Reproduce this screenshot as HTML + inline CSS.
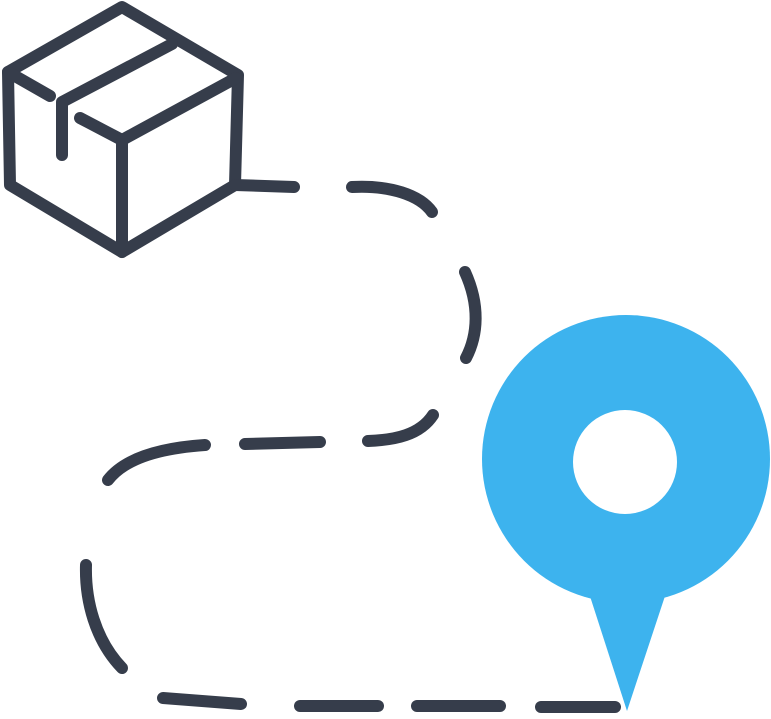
<!DOCTYPE html>
<html><head><style>html,body{margin:0;padding:0;background:#fff;width:771px;height:719px;overflow:hidden}</style></head>
<body>
<svg width="771" height="719" viewBox="0 0 771 719" xmlns="http://www.w3.org/2000/svg">
<g fill="none" stroke="#363d4b" stroke-width="12" stroke-linecap="round" stroke-linejoin="round">
<path d="M122,7 L8,72 L10,185 L122,252 L235,185 L238,75 Z"/>
<path d="M80,118 L122,140 L236,78"/>
<path d="M122,140 L122,252"/>
<path d="M8,72 L50,96"/>
<path d="M172,44 L62,102 L62,155"/>
<path d="M235,185 L294,187"/>
<path d="M352,187 C390,185 420,195 432,212" />
<path d="M465,272 C480,305 478,335 466,358"/>
<path d="M433,415 C420,435 395,440 368,441"/>
<path d="M320,442 L245,444"/>
<path d="M205,445 C160,448 125,458 108,480"/>
<path d="M86,565 C85,600 95,640 122,668"/>
<path d="M163,698 L241,704"/>
<path d="M300,706 L378,706"/>
<path d="M417,706 L500,706"/>
<path d="M541,707 L615,707"/>
</g>
<g fill="#3db3ee">
<circle cx="626" cy="459" r="144"/>
<path d="M588,590 L667,590 L627,711 Z"/>
</g>
<circle cx="625" cy="462" r="52" fill="#fff"/>
</svg>
</body></html>
